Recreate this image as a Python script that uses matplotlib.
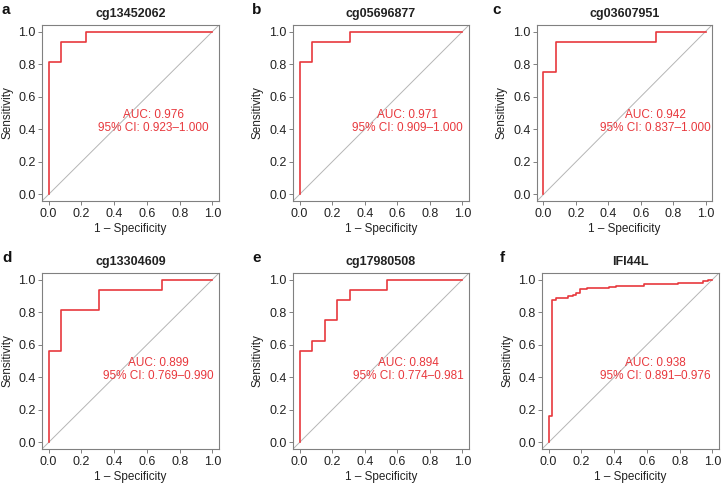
import matplotlib.pyplot as plt

plt.rcParams['font.family'] = ['Liberation Sans', 'DejaVu Sans']

# panel data: ROC step curves (1 - specificity, sensitivity)
titles = ['cg13452062', 'cg05696877', 'cg03607951', 'cg13304609', 'cg17980508', 'IFI44L']
letters = ['a', 'b', 'c', 'd', 'e', 'f']

fpr_a = [0, 0, 0.077, 0.231, 1]
tpr_a = [0, 0.8125, 0.9375, 1, 1]
fpr_b = [0, 0, 0.077, 0.308, 1]
tpr_b = [0, 0.8125, 0.9375, 1, 1]
fpr_c = [0, 0, 0.077, 0.692, 1]
tpr_c = [0, 0.75, 0.9375, 1, 1]
fpr_d = [0, 0, 0.077, 0.308, 0.692, 1]
tpr_d = [0, 0.5625, 0.8125, 0.9375, 1, 1]
fpr_e = [0, 0, 0.077, 0.154, 0.231, 0.308, 0.538, 1]
tpr_e = [0, 0.5625, 0.625, 0.75, 0.875, 0.9375, 1, 1]
fpr_f = [0, 0, 0.024, 0.045, 0.118, 0.149, 0.169, 0.193, 0.234, 0.366, 0.41, 0.58, 0.79, 0.945, 0.97, 0.99, 1.0]
tpr_f = [0, 0.165, 0.875, 0.887, 0.90, 0.905, 0.915, 0.94, 0.95, 0.955, 0.962, 0.97, 0.98, 0.99, 0.995, 1.0, 1.0]

fprs = [fpr_a, fpr_b, fpr_c, fpr_d, fpr_e, fpr_f]
tprs = [tpr_a, tpr_b, tpr_c, tpr_d, tpr_e, tpr_f]
aucs = ['0.976', '0.971', '0.942', '0.899', '0.894', '0.938']
cis = ['0.923\u20131.000', '0.909\u20131.000', '0.837\u20131.000',
       '0.769\u20130.990', '0.774\u20130.981', '0.891\u20130.976']

# layout (pixels)
W, H = 721, 487
boxes = [(42, 25, 177, 176), (293, 25, 176, 176), (537, 25, 175, 176),
         (42, 273, 177, 176), (293, 273, 176, 176), (542, 273, 177, 176)]
text_x = [0.64, 0.66, 0.69, 0.67, 0.67, 0.65]
letter_pos = [(2, 13.5), (252, 13.5), (492, 13.5), (2.5, 262), (252, 262), (500, 262)]

red = '#E8383D'
grey = '#808080'

fig = plt.figure(figsize=(W / 100, H / 100), dpi=100)

for i in range(6):
    l, t, w, h = boxes[i]
    ax = fig.add_axes([l / W, 1 - (t + h) / H, w / W, h / H])
    ax.axline((0, 0), (1, 1), color='#b5b5b5', lw=0.7, zorder=1)
    ax.plot(fprs[i], tprs[i], drawstyle='steps-post', color=red, lw=1.2, zorder=2)
    ax.set_xlim(-0.04, 1.04)
    ax.set_ylim(-0.04, 1.04)
    ticks = [0, 0.2, 0.4, 0.6, 0.8, 1.0]
    ax.set_xticks(ticks)
    ax.set_yticks(ticks)
    ax.set_xticklabels(['%.1f' % v for v in ticks])
    ax.set_yticklabels(['%.1f' % v for v in ticks])
    ax.tick_params(labelsize=9, length=3.2, width=0.7, color=grey,
                   labelcolor='#222222', pad=2)
    ax.tick_params(axis='y', pad=1.5)
    for s in ax.spines.values():
        s.set_color(grey)
        s.set_linewidth(0.8)
    ax.set_xlabel('1 \u2013 Specificity', fontsize=8.5, color='#222222', va='center')
    ax.set_ylabel('Sensitivity', fontsize=8.5, color='#222222', va='center')
    ax.xaxis.set_label_coords(0.5, -28 / h)
    ax.yaxis.set_label_coords(-35 / w, 0.5)
    ax.text(0.5, 1 + 11 / h, titles[i], transform=ax.transAxes, ha='center',
            va='center', fontsize=9, fontweight='bold', color='#222222')
    ax.text(text_x[i], 0.49, 'AUC: ' + aucs[i], ha='center', va='center',
            fontsize=8.5, color=red)
    ax.text(text_x[i], 0.41, '95% CI: ' + cis[i], ha='center', va='center',
            fontsize=8.5, color=red)
    lx, ly = letter_pos[i]
    fig.text(lx / W, 1 - ly / H, letters[i], fontsize=11, fontweight='bold',
             ha='left', va='baseline', color='#111111')

fig.savefig('out.png', dpi=100)
